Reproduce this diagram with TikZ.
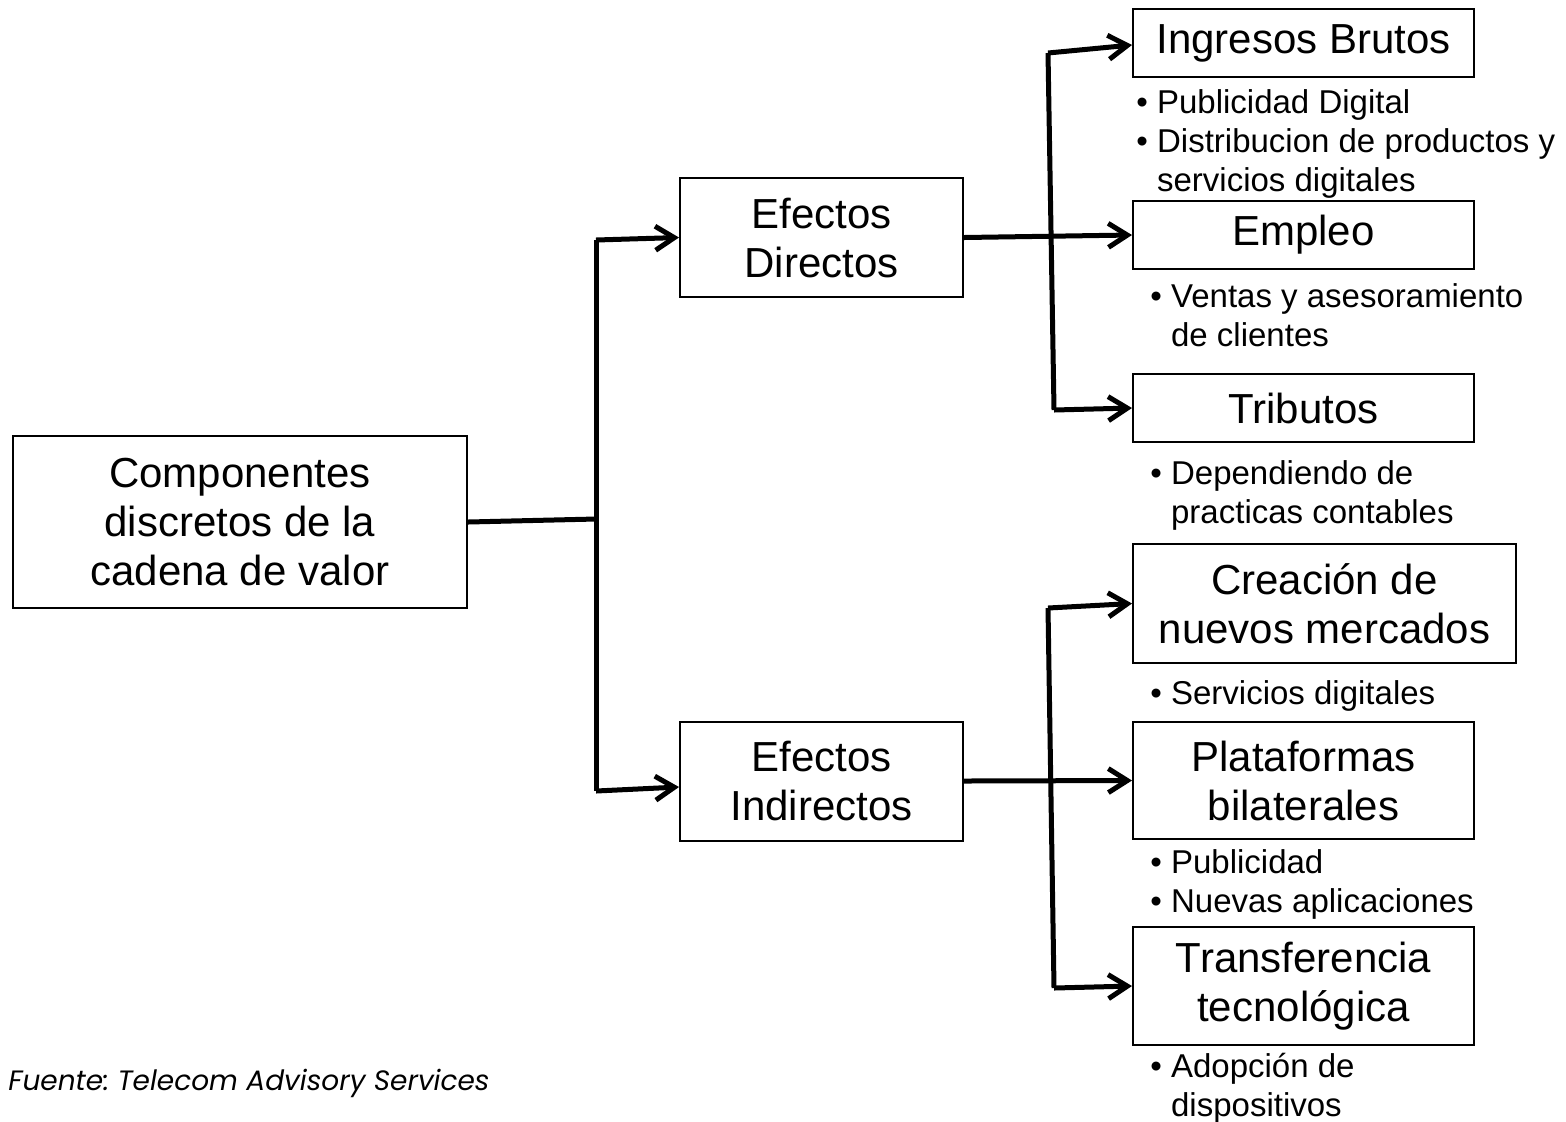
\documentclass[tikz,border=0pt]{standalone}
\usepackage{fontspec}
\setmainfont{Liberation Sans}
\newfontfamily\footfont{Poppins}
\usetikzlibrary{arrows.meta}
\begin{document}
\frenchspacing
\begin{tikzpicture}[x=0.5pt,y=-0.5pt,
  box/.style={draw, line width=1pt, inner sep=0pt, align=center,
    font=\fontsize{21}{24.5}\selectfont},
  conn/.style={line width=2.5pt},
  arr/.style={line width=2.5pt, -{Straight Barb[length=9.5pt,width=12pt]}},
  bul/.style={anchor=base west, inner sep=0pt, align=left,
    font=\fontsize{16.5}{19.5}\selectfont}
]
\useasboundingbox (0,0) rectangle (1566,1121);
% boxes
\node[box, minimum width=227pt, minimum height=86pt] (comp) at (240,522) {Componentes\\discretos de la\\cadena de valor};
\node[box, minimum width=141.5pt, minimum height=59.5pt] (ed) at (821.5,237.5) {Efectos\\Directos};
\node[box, minimum width=141.5pt, minimum height=59.5pt] (ei) at (821.5,781) {Efectos\\Indirectos};
\node[box, minimum width=170.5pt, minimum height=34pt] (ing) at (1303.5,43) {Ingresos Brutos};
\node[box, minimum width=170.5pt, minimum height=34pt] (emp) at (1303.5,235) {Empleo};
\node[box, minimum width=170.5pt, minimum height=34pt] (trib) at (1303.5,408) {Tributos};
\node[box, minimum width=191.5pt, minimum height=59.5pt] (crea) at (1324.5,603.5) {Creación de\\nuevos mercados};
\node[box, minimum width=170.5pt, minimum height=58.5pt] (plat) at (1303.5,780.5) {Plataformas\\bilaterales};
\node[box, minimum width=170.5pt, minimum height=59pt] (trans) at (1303.5,986) {Transferencia\\tecnológica};
% bullets (anchor = baseline of last line)
\node[bul] (b1) at (1136,191) {\textbullet\ Publicidad Digital\\\textbullet\ Distribucion de productos y\\\phantom{\textbullet\ }servicios digitales};
\node[bul] (b2) at (1150,346) {\textbullet\ Ventas y asesoramiento\\\phantom{\textbullet\ }de clientes};
\node[bul] (b3) at (1150,523) {\textbullet\ Dependiendo de\\\phantom{\textbullet\ }practicas contables};
\node[bul] (b4) at (1150,704) {\textbullet\ Servicios digitales};
\node[bul] (b5) at (1150,912) {\textbullet\ Publicidad\\\textbullet\ Nuevas aplicaciones};
\node[bul] (b6) at (1150,1116) {\textbullet\ Adopción de\\\phantom{\textbullet\ }dispositivos};
% footer
\node[anchor=base west, inner sep=0pt, font=\footfont\itshape\fontsize{14}{16}\selectfont] (src) at (8,1090) {Fuente: Telecom Advisory Services};
% connectors
\coordinate (j1) at (596,519);
\coordinate (v1t) at (596,240);
\coordinate (v1b) at (596,791);
\draw[conn] (comp.east) -- (j1);
\draw[conn] (v1t) -- (v1b);
\draw[arr] (v1t) -- (ed.west);
\draw[arr] (v1b) -- ([yshift=-3pt]ei.west);
\coordinate (v2t) at (1048,53);
\coordinate (v2b) at (1054,410);
\draw[conn] (v2t) -- (v2b);
\draw[arr] (v2t) -- ([yshift=-1pt]ing.west);
\draw[arr] (ed.east) -- (emp.west);
\draw[arr] (v2b) -- (trib.west);
\coordinate (v3t) at (1048,608);
\coordinate (v3b) at (1054,988);
\draw[conn] (v3t) -- (v3b);
\draw[arr] (v3t) -- (crea.west);
\draw[arr] (ei.east) -- (plat.west);
\draw[arr] (v3b) -- (trans.west);
\end{tikzpicture}
\end{document}
